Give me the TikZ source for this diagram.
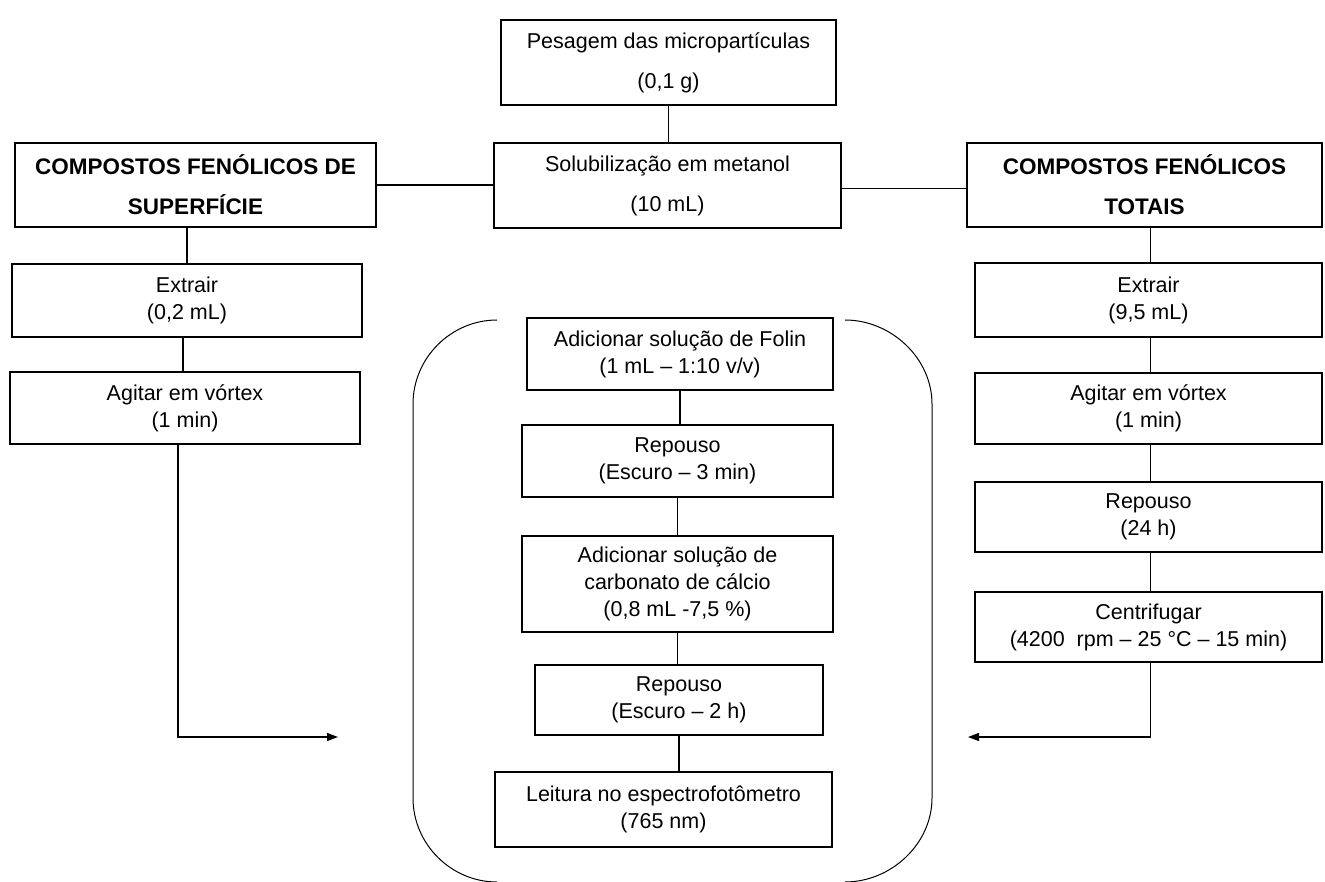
\documentclass[tikz,border=0pt]{standalone}
\usepackage{fontspec}
\setmainfont{Liberation Sans}
\usetikzlibrary{arrows.meta}

\begin{document}
\begin{tikzpicture}[x=1pt,y=-1pt,
    caixa/.style={draw, line width=1.3pt, align=center, inner sep=0pt, font=\fontsize{21.5}{27}\selectfont},
    caixadupla/.style={caixa, font=\fontsize{21.5}{40}\selectfont},
    titulo/.style={caixa, font=\fontsize{22.5}{40}\selectfont\bfseries},
    linha/.style={line width=1.3pt},
    seta/.style={linha, -{Triangle[length=11pt,width=8pt]}}]
  \useasboundingbox (0,0) rectangle (1325,882);

  % topo
  \node[caixadupla, minimum width=335pt, minimum height=85pt] (pes) at (668.5,62.5) {Pesagem das micropartículas\\(0,1 g)};
  \node[caixadupla, minimum width=347pt, minimum height=85pt] (sol) at (667.5,185.5) {Solubilização em metanol\\(10 mL)};
  \node[titulo, minimum width=361pt, minimum height=84pt] (cfs) at (195.5,185) {COMPOSTOS FENÓLICOS DE\\SUPERFÍCIE};
  \node[titulo, minimum width=355pt, minimum height=84pt] (cft) at (1144.5,185) {COMPOSTOS FENÓLICOS\\TOTAIS};

  % superficie
  \node[caixa, minimum width=350pt, minimum height=73pt] (exs) at (187,300.5) {Extrair\\(0,2 mL)};
  \node[caixa, minimum width=350pt, minimum height=72pt] (ags) at (185,408) {Agitar em vórtex\\(1 min)};

  % totais
  \node[caixa, minimum width=347pt, minimum height=74pt] (ext) at (1148.5,300) {Extrair\\(9,5 mL)};
  \node[caixa, minimum width=347pt, minimum height=71pt] (agt) at (1148.5,408.5) {Agitar em vórtex\\(1 min)};
  \node[caixa, minimum width=347pt, minimum height=70pt] (rep) at (1148.5,517) {Repouso\\(24 h)};
  \node[caixa, minimum width=347pt, minimum height=70pt] (cen) at (1148.5,627) {Centrifugar\\(4200~ rpm -- 25 °C -- 15 min)};

  % leitura
  \node[caixa, minimum width=306pt, minimum height=72pt] (fol) at (680,354) {Adicionar solução de Folin\\(1 mL -- 1:10 v/v)};
  \node[caixa, minimum width=311pt, minimum height=72pt] (re1) at (677.5,461) {Repouso\\(Escuro -- 3 min)};
  \node[caixa, minimum width=311pt, minimum height=96pt] (car) at (677.5,584) {Adicionar solução de\\carbonato de cálcio\\(0,8 mL -7,5 \%)};
  \node[caixa, minimum width=288pt, minimum height=70pt] (re2) at (679,700) {Repouso\\(Escuro -- 2 h)};
  \node[caixa, minimum width=337pt, minimum height=75pt] (lei) at (663.5,809.5) {Leitura no espectrofotômetro\\(765 nm)};

  \draw[linha] (pes.south) -- (pes.south |- sol.north);
  \draw[linha] (cfs.east) -- (cfs.east -| sol.west);
  \draw[linha] ([yshift=-3pt]sol.east) -- ([yshift=-3pt]sol.east -| cft.west);
  \draw[linha] (exs.north) -- (exs.north |- cfs.south);
  \draw[linha] ([xshift=-4pt]exs.south) -- ([xshift=-4pt]exs.south |- ags.north);
  \foreach \a/\b in {cft/ext,ext/agt,agt/rep,rep/cen}{
    \draw[linha] ([xshift=2pt]\b.north) -- ([xshift=2pt]\b.north |- \a.south);
  }
  \foreach \a/\b in {fol/re1,re1/car,car/re2,re2/lei}{
    \draw[linha] (\a.south) -- (\a.south |- \b.north);
  }

  \coordinate (chegaesq) at (338,737);
  \coordinate (chegadir) at (968,737);
  \draw[seta] ([xshift=-7pt]ags.south) |- (chegaesq);
  \draw[seta] ([xshift=2pt]cen.south) |- (chegadir);

  % parenteses
  \draw[line width=1pt] (497,320) .. controls (451,320) and (413,358) .. (413,404) -- (413,798) .. controls (413,844) and (451,882) .. (497,882);
  \draw[line width=1pt] (845,320) .. controls (891,320) and (932,358) .. (932,404) -- (932,798) .. controls (932,844) and (891,882) .. (845,882);
\end{tikzpicture}
\end{document}
